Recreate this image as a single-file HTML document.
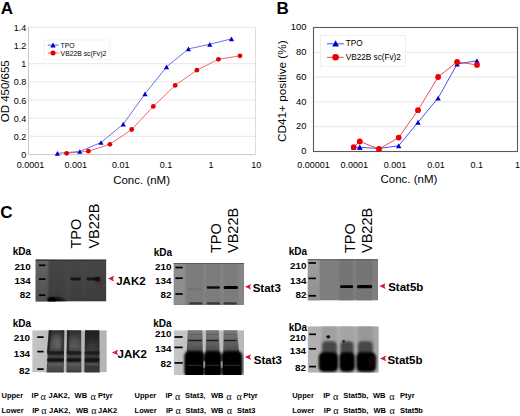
<!DOCTYPE html>
<html><head><meta charset="utf-8"><style>
html,body{margin:0;padding:0;background:#fff;}
svg{display:block;}
text{fill:#000;}
</style></head><body>
<svg width="520" height="416" viewBox="0 0 520 416" font-family="Liberation Sans">
<defs>
<filter id="b05" x="-50%" y="-50%" width="200%" height="200%"><feGaussianBlur stdDeviation="0.5"/></filter>
<filter id="b07" x="-50%" y="-50%" width="200%" height="200%"><feGaussianBlur stdDeviation="0.7"/></filter>
<filter id="b1" x="-50%" y="-50%" width="200%" height="200%"><feGaussianBlur stdDeviation="1.1"/></filter>
<filter id="b2" x="-50%" y="-50%" width="200%" height="200%"><feGaussianBlur stdDeviation="2.2"/></filter>
<clipPath id="c1"><rect x="35.6" y="259.4" width="70.8" height="42.2"/></clipPath>
<clipPath id="c2"><rect x="32.2" y="330.2" width="74.6" height="42.2"/></clipPath>
<clipPath id="c3"><rect x="173.6" y="262.9" width="70.5" height="42.1"/></clipPath>
<clipPath id="c4"><rect x="173.6" y="330.2" width="70.5" height="44.8"/></clipPath>
<clipPath id="c5"><rect x="307.6" y="259.2" width="70.5" height="41.4"/></clipPath>
<clipPath id="c6"><rect x="307.6" y="326.2" width="71.2" height="46.5"/></clipPath>
<linearGradient id="gB1" x1="0" y1="0" x2="0" y2="1">
 <stop offset="0" stop-color="#474747"/><stop offset="1" stop-color="#3c3c3c"/></linearGradient>
<linearGradient id="gB1L" x1="0" y1="0" x2="0" y2="1">
 <stop offset="0" stop-color="#666"/><stop offset="0.5" stop-color="#5a5a5a"/><stop offset="1" stop-color="#505050"/></linearGradient>
<linearGradient id="gB3L" x1="0" y1="0" x2="0" y2="1">
 <stop offset="0" stop-color="#a0a0a0"/><stop offset="1" stop-color="#8e8e8e"/></linearGradient>
<linearGradient id="gBgL1" x1="0" y1="0" x2="1" y2="0">
 <stop offset="0" stop-color="#c4c4c4"/><stop offset="0.2" stop-color="#bdbdbd"/><stop offset="1" stop-color="#b4b4b4"/></linearGradient>
<linearGradient id="gBgL2" x1="0" y1="0" x2="1" y2="0">
 <stop offset="0" stop-color="#c6c6c6"/><stop offset="1" stop-color="#b8b8b8"/></linearGradient>
<linearGradient id="gL1a" x1="0" y1="0" x2="0" y2="1">
 <stop offset="0" stop-color="#2a2a2a"/><stop offset="0.12" stop-color="#3a3a3a"/><stop offset="0.4" stop-color="#505050"/><stop offset="0.55" stop-color="#3a3a3a"/><stop offset="0.68" stop-color="#444"/><stop offset="0.85" stop-color="#505050"/><stop offset="1" stop-color="#3e3e3e"/></linearGradient>
<linearGradient id="gL1b" x1="0" y1="0" x2="0" y2="1">
 <stop offset="0" stop-color="#1e1e1e"/><stop offset="0.3" stop-color="#2a2a2a"/><stop offset="0.5" stop-color="#383838"/><stop offset="0.7" stop-color="#333"/><stop offset="1" stop-color="#3a3a3a"/></linearGradient>
<linearGradient id="gLane2" x1="0" y1="0" x2="0" y2="1">
 <stop offset="0" stop-color="#7a7a7a"/><stop offset="0.22" stop-color="#6a6a6a"/><stop offset="0.45" stop-color="#505050"/><stop offset="1" stop-color="#111"/></linearGradient>
<linearGradient id="gBg3" x1="0" y1="0" x2="1" y2="0">
 <stop offset="0" stop-color="#b2b2b2"/><stop offset="1" stop-color="#a6a6a6"/></linearGradient>
</defs>
<rect width="520" height="416" fill="#fff"/>
<text x="0.8" y="13.7" font-size="17" text-anchor="start" font-weight="bold" font-family="Liberation Sans" >A</text>
<line x1="28.5" y1="136.40" x2="255.5" y2="136.40" stroke="#ebebeb" stroke-width="1.2"/>
<line x1="28.5" y1="118.20" x2="255.5" y2="118.20" stroke="#ebebeb" stroke-width="1.2"/>
<line x1="28.5" y1="100.00" x2="255.5" y2="100.00" stroke="#ebebeb" stroke-width="1.2"/>
<line x1="28.5" y1="81.80" x2="255.5" y2="81.80" stroke="#ebebeb" stroke-width="1.2"/>
<line x1="28.5" y1="63.60" x2="255.5" y2="63.60" stroke="#ebebeb" stroke-width="1.2"/>
<line x1="28.5" y1="27.30" x2="255.5" y2="27.30" stroke="#ebebeb" stroke-width="1.2"/>
<line x1="255.5" y1="27.3" x2="255.5" y2="154.6" stroke="#dcdcdc" stroke-width="1"/>
<line x1="28.5" y1="27.3" x2="28.5" y2="154.6" stroke="#c8c8c8" stroke-width="1"/>
<line x1="28.5" y1="154.6" x2="255.5" y2="154.6" stroke="#c8c8c8" stroke-width="1"/>
<text x="26.2" y="158.25" font-size="9" text-anchor="end" font-weight="normal" font-family="Liberation Sans" >0</text>
<text x="26.2" y="140.05" font-size="9" text-anchor="end" font-weight="normal" font-family="Liberation Sans" >0.2</text>
<text x="26.2" y="121.85" font-size="9" text-anchor="end" font-weight="normal" font-family="Liberation Sans" >0.4</text>
<text x="26.2" y="103.65" font-size="9" text-anchor="end" font-weight="normal" font-family="Liberation Sans" >0.6</text>
<text x="26.2" y="85.45" font-size="9" text-anchor="end" font-weight="normal" font-family="Liberation Sans" >0.8</text>
<text x="26.2" y="67.25" font-size="9" text-anchor="end" font-weight="normal" font-family="Liberation Sans" >1</text>
<text x="26.2" y="49.05" font-size="9" text-anchor="end" font-weight="normal" font-family="Liberation Sans" >1.2</text>
<text x="26.2" y="30.95" font-size="9" text-anchor="end" font-weight="normal" font-family="Liberation Sans" >1.4</text>
<text x="30.50" y="167.9" font-size="9" text-anchor="middle" font-weight="normal" font-family="Liberation Sans" >0.0001</text>
<text x="75.65" y="167.9" font-size="9" text-anchor="middle" font-weight="normal" font-family="Liberation Sans" >0.001</text>
<text x="120.80" y="167.9" font-size="9" text-anchor="middle" font-weight="normal" font-family="Liberation Sans" >0.01</text>
<text x="165.95" y="167.9" font-size="9" text-anchor="middle" font-weight="normal" font-family="Liberation Sans" >0.1</text>
<text x="211.10" y="167.9" font-size="9" text-anchor="middle" font-weight="normal" font-family="Liberation Sans" >1</text>
<text x="256.25" y="167.9" font-size="9" text-anchor="middle" font-weight="normal" font-family="Liberation Sans" >10</text>
<text x="141.6" y="183.5" font-size="11.5" text-anchor="middle" font-weight="normal" font-family="Liberation Sans" >Conc. (nM)</text>
<text transform="translate(9.1,91.3) rotate(-90)" font-size="11.5" text-anchor="middle" font-family="Liberation Sans">OD 450/655</text>
<rect x="44" y="40" width="66" height="19.5" fill="#fff" stroke="#f0f0f0" stroke-width="0.8"/>
<line x1="47.7" y1="45.1" x2="58.7" y2="45.1" stroke="#3333ff" stroke-width="0.8"/>
<path d="M50.30,47.43 L55.70,47.43 L53.00,42.57 Z" fill="#0000cc"/>
<text x="60.6" y="47.6" font-size="6.8" text-anchor="start" font-weight="normal" font-family="Liberation Sans" >TPO</text>
<line x1="47.7" y1="53" x2="58.7" y2="53" stroke="#ff3333" stroke-width="0.8"/>
<circle cx="53.00" cy="53.00" r="2.5" fill="#e00000"/>
<text x="60.6" y="55.5" font-size="6.8" text-anchor="start" font-weight="normal" font-family="Liberation Sans" >VB22B sc(Fv)2</text>
<polyline points="57.40,153.30 79.80,151.50 101.00,142.50 123.20,124.20 145.00,93.90 166.50,66.90 188.40,48.90 209.80,44.30 231.50,38.80" fill="none" stroke="#4a4ae0" stroke-width="0.8"/>
<polyline points="66.60,153.30 88.40,151.20 109.90,144.30 131.70,129.50 153.30,106.40 175.20,85.40 196.90,70.20 218.40,59.30 240.00,55.80" fill="none" stroke="#f04040" stroke-width="0.8"/>
<path d="M54.80,155.64 L60.00,155.64 L57.40,150.96 Z" fill="#0000cc"/>
<path d="M77.20,153.84 L82.40,153.84 L79.80,149.16 Z" fill="#0000cc"/>
<path d="M98.40,144.84 L103.60,144.84 L101.00,140.16 Z" fill="#0000cc"/>
<path d="M120.60,126.54 L125.80,126.54 L123.20,121.86 Z" fill="#0000cc"/>
<path d="M142.40,96.24 L147.60,96.24 L145.00,91.56 Z" fill="#0000cc"/>
<path d="M163.90,69.24 L169.10,69.24 L166.50,64.56 Z" fill="#0000cc"/>
<path d="M185.80,51.24 L191.00,51.24 L188.40,46.56 Z" fill="#0000cc"/>
<path d="M207.20,46.64 L212.40,46.64 L209.80,41.96 Z" fill="#0000cc"/>
<path d="M228.90,41.14 L234.10,41.14 L231.50,36.46 Z" fill="#0000cc"/>
<circle cx="66.60" cy="153.30" r="2.4" fill="#e00000"/>
<circle cx="88.40" cy="151.20" r="2.4" fill="#e00000"/>
<circle cx="109.90" cy="144.30" r="2.4" fill="#e00000"/>
<circle cx="131.70" cy="129.50" r="2.4" fill="#e00000"/>
<circle cx="153.30" cy="106.40" r="2.4" fill="#e00000"/>
<circle cx="175.20" cy="85.40" r="2.4" fill="#e00000"/>
<circle cx="196.90" cy="70.20" r="2.4" fill="#e00000"/>
<circle cx="218.40" cy="59.30" r="2.4" fill="#e00000"/>
<circle cx="240.00" cy="55.80" r="2.4" fill="#e00000"/>
<text x="276.6" y="13.8" font-size="17" text-anchor="start" font-weight="bold" font-family="Liberation Sans" >B</text>
<line x1="313.5" y1="126.70" x2="517.5" y2="126.70" stroke="#ebebeb" stroke-width="1.2"/>
<line x1="313.5" y1="101.90" x2="517.5" y2="101.90" stroke="#ebebeb" stroke-width="1.2"/>
<line x1="313.5" y1="77.10" x2="517.5" y2="77.10" stroke="#ebebeb" stroke-width="1.2"/>
<line x1="313.5" y1="52.30" x2="517.5" y2="52.30" stroke="#ebebeb" stroke-width="1.2"/>
<rect x="313.5" y="27.5" width="204.0" height="124.0" fill="none" stroke="#5a5a5a" stroke-width="1.1"/>
<text x="306.4" y="154.10" font-size="9.4" text-anchor="end" font-weight="normal" font-family="Liberation Sans" >0</text>
<text x="306.4" y="129.30" font-size="9.4" text-anchor="end" font-weight="normal" font-family="Liberation Sans" >20</text>
<text x="306.4" y="104.50" font-size="9.4" text-anchor="end" font-weight="normal" font-family="Liberation Sans" >40</text>
<text x="306.4" y="79.70" font-size="9.4" text-anchor="end" font-weight="normal" font-family="Liberation Sans" >60</text>
<text x="306.4" y="54.90" font-size="9.4" text-anchor="end" font-weight="normal" font-family="Liberation Sans" >80</text>
<text x="306.4" y="30.10" font-size="9.4" text-anchor="end" font-weight="normal" font-family="Liberation Sans" >100</text>
<text x="313.50" y="168" font-size="9" text-anchor="middle" font-weight="normal" font-family="Liberation Sans" >0.00001</text>
<text x="354.30" y="168" font-size="9" text-anchor="middle" font-weight="normal" font-family="Liberation Sans" >0.0001</text>
<text x="395.10" y="168" font-size="9" text-anchor="middle" font-weight="normal" font-family="Liberation Sans" >0.001</text>
<text x="435.90" y="168" font-size="9" text-anchor="middle" font-weight="normal" font-family="Liberation Sans" >0.01</text>
<text x="476.70" y="168" font-size="9" text-anchor="middle" font-weight="normal" font-family="Liberation Sans" >0.1</text>
<text x="517.50" y="168" font-size="9" text-anchor="middle" font-weight="normal" font-family="Liberation Sans" >1</text>
<text x="408.9" y="183" font-size="11.5" text-anchor="middle" font-weight="normal" font-family="Liberation Sans" >Conc. (nM)</text>
<text transform="translate(286.1,91.15) rotate(-90)" font-size="11.75" text-anchor="middle" font-family="Liberation Sans">CD41+ positive (%)</text>
<rect x="320.4" y="35.4" width="85" height="31" fill="#fff" stroke="#ececec" stroke-width="0.8"/>
<line x1="327" y1="43.8" x2="343.8" y2="43.8" stroke="#3333ff" stroke-width="0.9"/>
<path d="M332.20,46.46 L339.00,46.46 L335.60,40.34 Z" fill="#0000cc"/>
<text x="345.8" y="46.3" font-size="8.2" text-anchor="start" font-weight="normal" font-family="Liberation Sans" >TPO</text>
<line x1="327" y1="57.3" x2="343.8" y2="57.3" stroke="#ff3333" stroke-width="0.9"/>
<circle cx="335.60" cy="57.30" r="3.3" fill="#e80000"/>
<text x="345.8" y="60.2" font-size="8.2" text-anchor="start" font-weight="normal" font-family="Liberation Sans" >VB22B sc(Fv)2</text>
<polyline points="353.70,147.30 359.80,147.30 379.00,148.50 398.70,145.80 418.00,122.30 438.10,98.10 457.10,64.10 477.00,60.70" fill="none" stroke="#3a3aee" stroke-width="0.9"/>
<polyline points="353.70,147.10 359.80,141.50 379.00,149.00 398.70,137.60 418.00,110.20 438.10,77.00 457.10,61.90 477.00,64.90" fill="none" stroke="#ee3a3a" stroke-width="0.9"/>
<path d="M351.00,149.73 L356.40,149.73 L353.70,144.87 Z" fill="#0000cc"/>
<path d="M357.10,149.73 L362.50,149.73 L359.80,144.87 Z" fill="#0000cc"/>
<path d="M376.30,150.93 L381.70,150.93 L379.00,146.07 Z" fill="#0000cc"/>
<path d="M396.00,148.23 L401.40,148.23 L398.70,143.37 Z" fill="#0000cc"/>
<path d="M415.30,124.73 L420.70,124.73 L418.00,119.87 Z" fill="#0000cc"/>
<path d="M435.40,100.53 L440.80,100.53 L438.10,95.67 Z" fill="#0000cc"/>
<path d="M454.40,66.53 L459.80,66.53 L457.10,61.67 Z" fill="#0000cc"/>
<path d="M474.30,63.13 L479.70,63.13 L477.00,58.27 Z" fill="#0000cc"/>
<circle cx="353.70" cy="147.10" r="2.9" fill="#ee0000"/>
<circle cx="359.80" cy="141.50" r="2.9" fill="#ee0000"/>
<circle cx="379.00" cy="149.00" r="2.9" fill="#ee0000"/>
<circle cx="398.70" cy="137.60" r="2.9" fill="#ee0000"/>
<circle cx="418.00" cy="110.20" r="2.9" fill="#ee0000"/>
<circle cx="438.10" cy="77.00" r="2.9" fill="#ee0000"/>
<circle cx="457.10" cy="61.90" r="2.9" fill="#ee0000"/>
<circle cx="477.00" cy="64.90" r="2.9" fill="#ee0000"/>
<path d="M357.10,149.73 L362.50,149.73 L359.80,144.87 Z" fill="#0000cc"/>
<text x="0.3" y="217.9" font-size="17" text-anchor="start" font-weight="bold" font-family="Liberation Sans" >C</text>
<text transform="translate(81.3,248.6) rotate(-90)" font-size="14.5" font-family="Liberation Sans">TPO</text>
<text transform="translate(98.7,248.6) rotate(-90)" font-size="14.5" font-family="Liberation Sans">VB22B</text>
<text transform="translate(221.3,253) rotate(-90)" font-size="14.5" font-family="Liberation Sans">TPO</text>
<text transform="translate(237.9,253) rotate(-90)" font-size="14.5" font-family="Liberation Sans">VB22B</text>
<text transform="translate(354.6,253) rotate(-90)" font-size="14.5" font-family="Liberation Sans">TPO</text>
<text transform="translate(371.5,253) rotate(-90)" font-size="14.5" font-family="Liberation Sans">VB22B</text>
<g clip-path="url(#c1)">
<rect x="35.6" y="259.4" width="70.80" height="42.20" fill="url(#gB1)" />
<rect x="33" y="259.4" width="15.20" height="43.60" fill="url(#gB1L)" filter="url(#b1)"/>
<rect x="35" y="259.20" width="71.50" height="1.6" rx="0.80" fill="#2e2e2e" opacity="1" filter="url(#b05)"/>
<rect x="64" y="264.00" width="8.00" height="36" rx="2.00" fill="#4c4c4c" opacity="0.5" filter="url(#b2)"/>
<rect x="82" y="264.00" width="5.00" height="36" rx="2.00" fill="#4c4c4c" opacity="0.4" filter="url(#b2)"/>
<rect x="70.3" y="277.60" width="10.70" height="2.8" rx="1.40" fill="#161616" opacity="1" filter="url(#b07)"/>
<rect x="86.6" y="277.50" width="12.10" height="3" rx="1.50" fill="#121212" opacity="1" filter="url(#b07)"/>
<ellipse cx="97.6" cy="279.2" rx="2.6" ry="2.4" fill="#080808" opacity="1" filter="url(#b07)"/>
<ellipse cx="99.5" cy="281" rx="3" ry="4.5" fill="#4a1020" opacity="0.3" filter="url(#b1)"/>
<path d="M48.2,297.5 L60,297.5 L67,302 L48,302 Z" fill="#0a0a0a" opacity="1" filter="url(#b1)"/>
<ellipse cx="52" cy="299.8" rx="4.5" ry="2.6" fill="#000" opacity="1" filter="url(#b07)"/>
</g>
<rect x="39" y="264.45" width="6.40" height="1.7" fill="#000"/>
<rect x="39" y="278.25" width="6.40" height="1.7" fill="#000"/>
<rect x="39" y="294.35" width="6.40" height="1.7" fill="#000"/>
<path d="M107.90,278.60 L114.10,275.80 L112.90,278.60 L114.10,281.40 Z" fill="#e01040"/>
<text x="116.2" y="284.8" font-size="11.5" text-anchor="start" font-weight="bold" font-family="Liberation Sans" >JAK2</text>
<text x="30.8" y="269.50" font-size="9.8" text-anchor="end" font-weight="bold" font-family="Liberation Sans" textLength="16.4" lengthAdjust="spacingAndGlyphs">210</text>
<text x="30.8" y="284.30" font-size="9.8" text-anchor="end" font-weight="bold" font-family="Liberation Sans" textLength="16.4" lengthAdjust="spacingAndGlyphs">134</text>
<text x="30.8" y="298.40" font-size="9.8" text-anchor="end" font-weight="bold" font-family="Liberation Sans" textLength="11.0" lengthAdjust="spacingAndGlyphs">82</text>
<text x="12.8" y="254.7" font-size="10" text-anchor="start" font-weight="bold" font-family="Liberation Sans" >kDa</text>
<g clip-path="url(#c2)">
<rect x="32.2" y="330.2" width="74.60" height="42.20" fill="url(#gBgL1)" />
<path d="M48.9,329.5 L64.3,329.5 L63.8,373 L46.6,373 Z" fill="url(#gL1a)" opacity="1" filter="url(#b07)"/>
<path d="M66.9,329.5 L81.2,329.5 L81.4,373 L66.4,373 Z" fill="url(#gL1a)" opacity="1" filter="url(#b07)"/>
<path d="M85,329.5 L99.4,329.5 L99.7,373 L84.3,373 Z" fill="url(#gL1b)" opacity="1" filter="url(#b07)"/>
<path d="M48.9,330 L51.5,330 L49.5,352 L46.8,352 Z" fill="#1e1e1e" opacity="0.8" filter="url(#b07)"/>
<path d="M67.4,330 L69.5,330 L69,352 L66.8,352 Z" fill="#1e1e1e" opacity="0.7" filter="url(#b07)"/>
<path d="M61,330 L64.3,330 L63.8,352 L61,352 Z" fill="#2a2a2a" opacity="0.6" filter="url(#b07)"/>
<ellipse cx="57" cy="342" rx="4" ry="7" fill="#6e6e6e" opacity="0.7" filter="url(#b2)"/>
<ellipse cx="74" cy="343" rx="3" ry="6" fill="#666" opacity="0.6" filter="url(#b2)"/>
<ellipse cx="92.5" cy="346" rx="3.5" ry="5" fill="#4a4a4a" opacity="0.5" filter="url(#b2)"/>
<rect x="47" y="351.20" width="17.00" height="3.2" rx="1.60" fill="#1a1a1a" opacity="1" filter="url(#b07)"/>
<rect x="47" y="358.20" width="17.00" height="3.6" rx="1.80" fill="#141414" opacity="1" filter="url(#b07)"/>
<rect x="48" y="363.50" width="15.00" height="2" rx="1.00" fill="#6a6a6a" opacity="0.6" filter="url(#b07)"/>
<rect x="66.6" y="351.20" width="14.60" height="3.2" rx="1.60" fill="#1a1a1a" opacity="1" filter="url(#b07)"/>
<rect x="66.6" y="358.20" width="14.60" height="3.6" rx="1.80" fill="#141414" opacity="1" filter="url(#b07)"/>
<rect x="67.6" y="363.50" width="12.60" height="2" rx="1.00" fill="#6a6a6a" opacity="0.6" filter="url(#b07)"/>
<rect x="84.5" y="351.20" width="15.10" height="3.2" rx="1.60" fill="#1a1a1a" opacity="1" filter="url(#b07)"/>
<rect x="84.5" y="358.20" width="15.10" height="3.6" rx="1.80" fill="#141414" opacity="1" filter="url(#b07)"/>
<rect x="85.5" y="363.50" width="13.10" height="2" rx="1.00" fill="#6a6a6a" opacity="0.6" filter="url(#b07)"/>
</g>
<rect x="37.3" y="336.25" width="6.30" height="1.7" fill="#000"/>
<rect x="37.3" y="350.75" width="6.30" height="1.7" fill="#000"/>
<rect x="37.3" y="368.25" width="6.30" height="1.7" fill="#000"/>
<path d="M111.90,352.50 L118.10,349.70 L116.90,352.50 L118.10,355.30 Z" fill="#e01040"/>
<text x="117.6" y="358.2" font-size="11.5" text-anchor="start" font-weight="bold" font-family="Liberation Sans" >JAK2</text>
<text x="30.1" y="341.30" font-size="9.8" text-anchor="end" font-weight="bold" font-family="Liberation Sans" textLength="16.4" lengthAdjust="spacingAndGlyphs">210</text>
<text x="30.1" y="356.80" font-size="9.8" text-anchor="end" font-weight="bold" font-family="Liberation Sans" textLength="16.4" lengthAdjust="spacingAndGlyphs">134</text>
<text x="30.1" y="373.50" font-size="9.8" text-anchor="end" font-weight="bold" font-family="Liberation Sans" textLength="11.0" lengthAdjust="spacingAndGlyphs">82</text>
<text x="12.8" y="327.1" font-size="10" text-anchor="start" font-weight="bold" font-family="Liberation Sans" >kDa</text>
<g clip-path="url(#c3)">
<rect x="173.6" y="262.9" width="70.50" height="42.10" fill="#7c7c7c" />
<rect x="173.6" y="262.9" width="12.00" height="42.10" fill="#8e8e8e" filter="url(#b1)"/>
<rect x="238.5" y="262.9" width="5.60" height="42.10" fill="#868686" filter="url(#b1)"/>
<rect x="203.5" y="262.9" width="2.50" height="42.10" fill="#838383" filter="url(#b07)"/>
<rect x="220.5" y="262.9" width="2.80" height="42.10" fill="#838383" filter="url(#b07)"/>
<rect x="173" y="262.70" width="72.00" height="1.2" rx="0.60" fill="#5a5a5a" opacity="1" filter="url(#b05)"/>
<rect x="188.5" y="288.10" width="13.20" height="2.2" rx="1.10" fill="#727272" opacity="1" filter="url(#b07)"/>
<rect x="206.8" y="286.20" width="13.20" height="2.6" rx="1.30" fill="#0a0a0a" opacity="1" filter="url(#b05)"/>
<rect x="223.6" y="286.00" width="14.40" height="3" rx="1.50" fill="#050505" opacity="1" filter="url(#b05)"/>
<rect x="189.3" y="302.20" width="13.10" height="2.4" rx="1.20" fill="#383838" opacity="1" filter="url(#b07)"/>
<rect x="206.8" y="302.20" width="13.20" height="2.4" rx="1.20" fill="#383838" opacity="1" filter="url(#b07)"/>
<rect x="223.6" y="302.20" width="13.20" height="2.4" rx="1.20" fill="#383838" opacity="1" filter="url(#b07)"/>
</g>
<rect x="175.4" y="266.65" width="7.30" height="1.7" fill="#000"/>
<rect x="175.4" y="277.35" width="7.30" height="1.7" fill="#000"/>
<rect x="175.4" y="293.15" width="7.30" height="1.7" fill="#000"/>
<path d="M244.90,286.70 L251.10,283.90 L249.90,286.70 L251.10,289.50 Z" fill="#e01040"/>
<text x="252.7" y="292.1" font-size="11.5" text-anchor="start" font-weight="bold" font-family="Liberation Sans" >Stat3</text>
<text x="171.4" y="270.10" font-size="9.8" text-anchor="end" font-weight="bold" font-family="Liberation Sans" textLength="16.4" lengthAdjust="spacingAndGlyphs">210</text>
<text x="171.4" y="283.60" font-size="9.8" text-anchor="end" font-weight="bold" font-family="Liberation Sans" textLength="16.4" lengthAdjust="spacingAndGlyphs">134</text>
<text x="171.4" y="298.10" font-size="9.8" text-anchor="end" font-weight="bold" font-family="Liberation Sans" textLength="11.0" lengthAdjust="spacingAndGlyphs">82</text>
<text x="153.7" y="255.6" font-size="10" text-anchor="start" font-weight="bold" font-family="Liberation Sans" >kDa</text>
<g clip-path="url(#c4)">
<rect x="173.6" y="330.2" width="70.50" height="44.80" fill="url(#gBgL2)" />
<path d="M187.8,329 L202.4,329 L203.2,376 L185.5,376 Z" fill="url(#gLane2)" opacity="1" filter="url(#b07)"/>
<rect x="188.10000000000002" y="339.70" width="14.00" height="1.6" rx="0.80" fill="#1e1e1e" opacity="1" filter="url(#b05)"/>
<rect x="188.3" y="334.00" width="13.60" height="1" rx="0.50" fill="#5a5a5a" opacity="0.7" filter="url(#b05)"/>
<rect x="184.30" y="351" width="20.10" height="26" rx="5" fill="#050505" filter="url(#b1)"/>
<rect x="187.0" y="364.65" width="14.70" height="1.3" rx="0.65" fill="#333" opacity="0.8" filter="url(#b05)"/>
<path d="M206.1,329 L218.8,329 L220.5,376 L205.2,376 Z" fill="url(#gLane2)" opacity="1" filter="url(#b07)"/>
<rect x="206.4" y="339.70" width="12.10" height="1.6" rx="0.80" fill="#1e1e1e" opacity="1" filter="url(#b05)"/>
<rect x="206.6" y="334.00" width="11.70" height="1" rx="0.50" fill="#5a5a5a" opacity="0.7" filter="url(#b05)"/>
<rect x="204.00" y="351" width="17.70" height="26" rx="5" fill="#050505" filter="url(#b1)"/>
<rect x="206.7" y="364.65" width="12.30" height="1.3" rx="0.65" fill="#333" opacity="0.8" filter="url(#b05)"/>
<path d="M223.6,329 L237,329 L241.2,376 L222.8,376 Z" fill="url(#gLane2)" opacity="1" filter="url(#b07)"/>
<rect x="223.9" y="339.70" width="12.80" height="1.6" rx="0.80" fill="#1e1e1e" opacity="1" filter="url(#b05)"/>
<rect x="224.1" y="334.00" width="12.40" height="1" rx="0.50" fill="#5a5a5a" opacity="0.7" filter="url(#b05)"/>
<rect x="221.60" y="351" width="20.80" height="26" rx="5" fill="#050505" filter="url(#b1)"/>
<rect x="224.3" y="364.65" width="15.40" height="1.3" rx="0.65" fill="#333" opacity="0.8" filter="url(#b05)"/>
<ellipse cx="204.2" cy="364.5" rx="1.1" ry="3.8" fill="#8a8a8a" opacity="1" filter="url(#b07)"/>
<ellipse cx="221.7" cy="364.5" rx="1.1" ry="3.8" fill="#8a8a8a" opacity="1" filter="url(#b07)"/>
</g>
<rect x="174.5" y="336.15" width="8.20" height="1.7" fill="#000"/>
<rect x="174.5" y="346.55" width="8.20" height="1.7" fill="#000"/>
<rect x="174.5" y="362.05" width="8.20" height="1.7" fill="#000"/>
<path d="M244.80,357.10 L251.00,354.30 L249.80,357.10 L251.00,359.90 Z" fill="#e01040"/>
<text x="253.8" y="363.8" font-size="11.5" text-anchor="start" font-weight="bold" font-family="Liberation Sans" >Stat3</text>
<text x="171.5" y="337.20" font-size="9.8" text-anchor="end" font-weight="bold" font-family="Liberation Sans" textLength="16.4" lengthAdjust="spacingAndGlyphs">210</text>
<text x="171.5" y="351.70" font-size="9.8" text-anchor="end" font-weight="bold" font-family="Liberation Sans" textLength="16.4" lengthAdjust="spacingAndGlyphs">134</text>
<text x="171.5" y="367.00" font-size="9.8" text-anchor="end" font-weight="bold" font-family="Liberation Sans" textLength="11.0" lengthAdjust="spacingAndGlyphs">82</text>
<text x="153.2" y="327.1" font-size="10" text-anchor="start" font-weight="bold" font-family="Liberation Sans" >kDa</text>
<g clip-path="url(#c5)">
<rect x="307.6" y="259.2" width="70.50" height="41.40" fill="#7e7e7e" />
<rect x="307.6" y="259.2" width="12.00" height="41.40" fill="url(#gB3L)" filter="url(#b07)"/>
<rect x="339.4" y="259.2" width="13.80" height="41.40" fill="#747474" filter="url(#b07)"/>
<rect x="356.2" y="259.2" width="16.10" height="41.40" fill="#747474" filter="url(#b07)"/>
<rect x="307" y="259.00" width="72.00" height="1.2" rx="0.60" fill="#5a5a5a" opacity="1" filter="url(#b05)"/>
<rect x="340" y="285.30" width="13.20" height="2.8" rx="1.40" fill="#050505" opacity="1" filter="url(#b05)"/>
<rect x="357" y="285.10" width="15.30" height="3.2" rx="1.60" fill="#030303" opacity="1" filter="url(#b05)"/>
</g>
<rect x="308.5" y="262.15" width="7.50" height="1.7" fill="#000"/>
<rect x="308.5" y="277.55" width="7.50" height="1.7" fill="#000"/>
<rect x="308.5" y="294.95" width="7.50" height="1.7" fill="#000"/>
<path d="M379.40,286.10 L385.60,283.30 L384.40,286.10 L385.60,288.90 Z" fill="#e01040"/>
<text x="388.2" y="290.8" font-size="11.5" text-anchor="start" font-weight="bold" font-family="Liberation Sans" >Stat5b</text>
<text x="306.4" y="269.10" font-size="9.8" text-anchor="end" font-weight="bold" font-family="Liberation Sans" textLength="16.4" lengthAdjust="spacingAndGlyphs">210</text>
<text x="306.4" y="283.60" font-size="9.8" text-anchor="end" font-weight="bold" font-family="Liberation Sans" textLength="16.4" lengthAdjust="spacingAndGlyphs">134</text>
<text x="306.4" y="298.40" font-size="9.8" text-anchor="end" font-weight="bold" font-family="Liberation Sans" textLength="11.0" lengthAdjust="spacingAndGlyphs">82</text>
<text x="288.8" y="254.7" font-size="10" text-anchor="start" font-weight="bold" font-family="Liberation Sans" >kDa</text>
<g clip-path="url(#c6)">
<rect x="307.6" y="326.2" width="71.20" height="46.50" fill="url(#gBg3)" />
<path d="M322.5,326 L336.4,326 L337.6,372.7 L319.2,372.7 Z" fill="#a0a0a0" opacity="1" filter="url(#b1)"/>
<rect x="322.20" y="341.2" width="14.50" height="16" rx="4" fill="#474747" filter="url(#b1)"/>
<rect x="318.80" y="352.3" width="19.20" height="19.5" rx="5" fill="#060606" filter="url(#b1)"/>
<path d="M340.8,326 L353.2,326 L354.4,372.7 L339.8,372.7 Z" fill="#a4a4a4" opacity="1" filter="url(#b1)"/>
<rect x="340.50" y="341.2" width="13.00" height="16" rx="4" fill="#474747" filter="url(#b1)"/>
<rect x="339.40" y="352.3" width="15.40" height="19.5" rx="5" fill="#060606" filter="url(#b1)"/>
<path d="M358.4,326 L372.3,326 L375.5,372.7 L356.8,372.7 Z" fill="#989898" opacity="1" filter="url(#b1)"/>
<rect x="358.10" y="341.2" width="14.50" height="16" rx="4" fill="#474747" filter="url(#b1)"/>
<rect x="356.40" y="352.3" width="19.50" height="19.5" rx="5" fill="#060606" filter="url(#b1)"/>
<ellipse cx="328.3" cy="336.8" rx="2.0" ry="1.6" fill="#080808" opacity="1" filter="url(#b05)"/>
<ellipse cx="343.7" cy="341.3" rx="1.2" ry="1.5" fill="#222" opacity="1" filter="url(#b05)"/>
<ellipse cx="372" cy="361" rx="4" ry="6" fill="#3a0a10" opacity="0.35" filter="url(#b1)"/>
</g>
<rect x="309.1" y="333.45" width="6.90" height="1.7" fill="#000"/>
<rect x="309.1" y="347.95" width="6.90" height="1.7" fill="#000"/>
<rect x="309.1" y="365.75" width="6.90" height="1.7" fill="#000"/>
<path d="M380.00,358.40 L386.20,355.60 L385.00,358.40 L386.20,361.20 Z" fill="#e01040"/>
<text x="387.4" y="363.8" font-size="11.5" text-anchor="start" font-weight="bold" font-family="Liberation Sans" >Stat5b</text>
<text x="306.1" y="341.30" font-size="9.8" text-anchor="end" font-weight="bold" font-family="Liberation Sans" textLength="16.4" lengthAdjust="spacingAndGlyphs">210</text>
<text x="306.1" y="354.00" font-size="9.8" text-anchor="end" font-weight="bold" font-family="Liberation Sans" textLength="16.4" lengthAdjust="spacingAndGlyphs">134</text>
<text x="306.1" y="370.70" font-size="9.8" text-anchor="end" font-weight="bold" font-family="Liberation Sans" textLength="11.0" lengthAdjust="spacingAndGlyphs">82</text>
<text x="288.8" y="330.7" font-size="10" text-anchor="start" font-weight="bold" font-family="Liberation Sans" >kDa</text>
<text x="1.5" y="398.0" font-size="7.5" text-anchor="start" font-weight="bold" font-family="Liberation Sans" >Upper</text>
<text x="31.6" y="398.0" font-size="7.5" text-anchor="start" font-weight="bold" font-family="Liberation Sans" >IP</text>
<text x="40.4" y="399.6" font-size="10.2" text-anchor="start" font-weight="normal" font-family="Liberation Serif" >α</text>
<text x="48.5" y="398.0" font-size="7.5" text-anchor="start" font-weight="bold" font-family="Liberation Sans" >JAK2,</text>
<text x="74.6" y="398.0" font-size="7.5" text-anchor="start" font-weight="bold" font-family="Liberation Sans" >WB</text>
<text x="90.4" y="399.6" font-size="10.2" text-anchor="start" font-weight="normal" font-family="Liberation Serif" >α</text>
<text x="98" y="398.0" font-size="7.5" text-anchor="start" font-weight="bold" font-family="Liberation Sans" >Ptyr</text>
<text x="1.5" y="412.8" font-size="7.5" text-anchor="start" font-weight="bold" font-family="Liberation Sans" >Lower</text>
<text x="32.2" y="412.8" font-size="7.5" text-anchor="start" font-weight="bold" font-family="Liberation Sans" >IP</text>
<text x="41.2" y="414.40000000000003" font-size="10.2" text-anchor="start" font-weight="normal" font-family="Liberation Serif" >α</text>
<text x="49" y="412.8" font-size="7.5" text-anchor="start" font-weight="bold" font-family="Liberation Sans" >JAK2,</text>
<text x="76" y="412.8" font-size="7.5" text-anchor="start" font-weight="bold" font-family="Liberation Sans" >WB</text>
<text x="91.2" y="414.40000000000003" font-size="10.2" text-anchor="start" font-weight="normal" font-family="Liberation Serif" >α</text>
<text x="98" y="412.8" font-size="7.5" text-anchor="start" font-weight="bold" font-family="Liberation Sans" >JAK2</text>
<text x="134.6" y="398.0" font-size="7.5" text-anchor="start" font-weight="bold" font-family="Liberation Sans" >Upper</text>
<text x="165.4" y="398.0" font-size="7.5" text-anchor="start" font-weight="bold" font-family="Liberation Sans" >IP</text>
<text x="175" y="399.6" font-size="10.2" text-anchor="start" font-weight="normal" font-family="Liberation Serif" >α</text>
<text x="185" y="398.0" font-size="7.5" text-anchor="start" font-weight="bold" font-family="Liberation Sans" >Stat3,</text>
<text x="211" y="398.0" font-size="7.5" text-anchor="start" font-weight="bold" font-family="Liberation Sans" >WB</text>
<text x="226.3" y="399.6" font-size="10.2" text-anchor="start" font-weight="normal" font-family="Liberation Serif" >α</text>
<text x="236.4" y="399.6" font-size="10.2" text-anchor="start" font-weight="normal" font-family="Liberation Serif" >α</text>
<text x="243.2" y="398.0" font-size="7.5" text-anchor="start" font-weight="bold" font-family="Liberation Sans" >Ptyr</text>
<text x="134.6" y="412.8" font-size="7.5" text-anchor="start" font-weight="bold" font-family="Liberation Sans" >Lower</text>
<text x="166" y="412.8" font-size="7.5" text-anchor="start" font-weight="bold" font-family="Liberation Sans" >IP</text>
<text x="175.6" y="414.40000000000003" font-size="10.2" text-anchor="start" font-weight="normal" font-family="Liberation Serif" >α</text>
<text x="185.6" y="412.8" font-size="7.5" text-anchor="start" font-weight="bold" font-family="Liberation Sans" >Stat3,</text>
<text x="211" y="412.8" font-size="7.5" text-anchor="start" font-weight="bold" font-family="Liberation Sans" >WB</text>
<text x="226.8" y="414.40000000000003" font-size="10.2" text-anchor="start" font-weight="normal" font-family="Liberation Serif" >α</text>
<text x="237" y="412.8" font-size="7.5" text-anchor="start" font-weight="bold" font-family="Liberation Sans" >Stat3</text>
<text x="292.2" y="398.0" font-size="7.5" text-anchor="start" font-weight="bold" font-family="Liberation Sans" >Upper</text>
<text x="323.2" y="398.0" font-size="7.5" text-anchor="start" font-weight="bold" font-family="Liberation Sans" >IP</text>
<text x="333" y="399.6" font-size="10.2" text-anchor="start" font-weight="normal" font-family="Liberation Serif" >α</text>
<text x="343.3" y="398.0" font-size="7.5" text-anchor="start" font-weight="bold" font-family="Liberation Sans" >Stat5b,</text>
<text x="372.9" y="398.0" font-size="7.5" text-anchor="start" font-weight="bold" font-family="Liberation Sans" >WB</text>
<text x="389.3" y="399.6" font-size="10.2" text-anchor="start" font-weight="normal" font-family="Liberation Serif" >α</text>
<text x="400" y="398.0" font-size="7.5" text-anchor="start" font-weight="bold" font-family="Liberation Sans" >Ptyr</text>
<text x="292.2" y="412.8" font-size="7.5" text-anchor="start" font-weight="bold" font-family="Liberation Sans" >Lower</text>
<text x="323.8" y="412.8" font-size="7.5" text-anchor="start" font-weight="bold" font-family="Liberation Sans" >IP</text>
<text x="333.3" y="414.40000000000003" font-size="10.2" text-anchor="start" font-weight="normal" font-family="Liberation Serif" >α</text>
<text x="343.3" y="412.8" font-size="7.5" text-anchor="start" font-weight="bold" font-family="Liberation Sans" >Stat5b,</text>
<text x="373.5" y="412.8" font-size="7.5" text-anchor="start" font-weight="bold" font-family="Liberation Sans" >WB</text>
<text x="389.6" y="414.40000000000003" font-size="10.2" text-anchor="start" font-weight="normal" font-family="Liberation Serif" >α</text>
<text x="400" y="412.8" font-size="7.5" text-anchor="start" font-weight="bold" font-family="Liberation Sans" >Stat5b</text>
</svg>
</body></html>
